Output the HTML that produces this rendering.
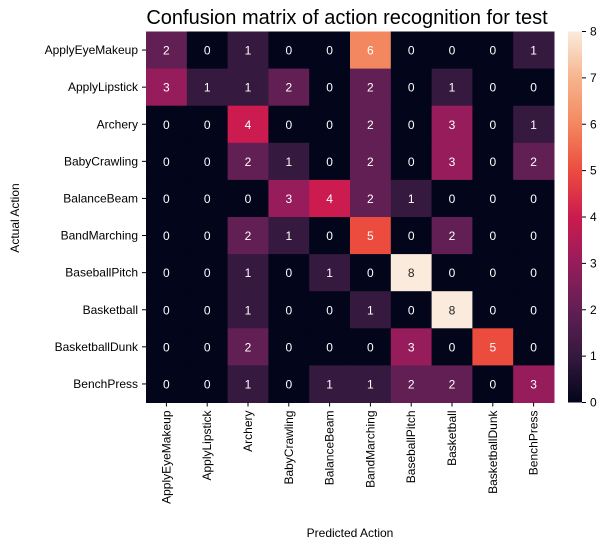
<!DOCTYPE html>
<html><head><meta charset="utf-8"><style>
body{margin:0;background:#fff;font-family:"Liberation Sans",Arial,sans-serif}
svg{display:block}
text{font-family:"Liberation Sans",Arial,sans-serif}
</style></head><body>
<svg id="chart" width="614" height="551">
<text x="347" y="24" text-anchor="middle" font-size="20">Confusion matrix of action recognition for test</text>
<text x="350" y="537" text-anchor="middle" font-size="12">Predicted Action</text>
<text transform="translate(19,218) rotate(-90)" text-anchor="middle" font-size="12">Actual Action</text>
<defs><linearGradient id="cbg" x1="0" y1="1" x2="0" y2="0"></linearGradient></defs>
</svg>
<script>
const categories=["ApplyEyeMakeup","ApplyLipstick","Archery","BabyCrawling","BalanceBeam","BandMarching","BaseballPitch","Basketball","BasketballDunk","BenchPress"];
const matrix=[
[2,0,1,0,0,6,0,0,0,1],
[3,1,1,2,0,2,0,1,0,0],
[0,0,4,0,0,2,0,3,0,1],
[0,0,2,1,0,2,0,3,0,2],
[0,0,0,3,4,2,1,0,0,0],
[0,0,2,1,0,5,0,2,0,0],
[0,0,1,0,1,0,8,0,0,0],
[0,0,1,0,0,1,0,8,0,0],
[0,0,2,0,0,0,3,0,5,0],
[0,0,1,0,1,1,2,2,0,3]];
const cbTicks=[0,1,2,3,4,5,6,7,8];
const vmax=8;
const stops=["#03051a","#35193e","#611f53","#971c5b","#cb1b4f","#ec4c3e","#f3875f","#f6b48e","#faebdd"];
function hex(c){return [1,3,5].map(i=>parseInt(c.substr(i,2),16));}
function color(v){const t=Math.max(0,Math.min(1,v/vmax))*(stops.length-1);const i=Math.min(stops.length-2,Math.floor(t));const f=t-i;const a=hex(stops[i]),b=hex(stops[i+1]);return "rgb("+a.map((x,k)=>Math.round(x+(b[k]-x)*f)).join(",")+")";}
const X0=146,X1=554,Y0=31.5,Y1=402.5;
const cw=(X1-X0)/categories.length,ch=(Y1-Y0)/categories.length;
const xs=j=>X0+j*cw, ys=i=>Y0+i*ch;
const svg=document.getElementById('chart');const NS="http://www.w3.org/2000/svg";
function mk(t,a){const e=document.createElementNS(NS,t);for(const k in a)e.setAttribute(k,a[k]);svg.appendChild(e);return e;}
matrix.forEach((row,i)=>row.forEach((v,j)=>{
 const r=mk('rect',{x:xs(j),y:ys(i),width:cw+0.5,height:ch+0.5,fill:color(v)});
 
 
 const t=mk('text',{x:xs(j)+cw/2,y:ys(i)+ch/2+4.5,'text-anchor':'middle','font-size':12,fill:v/vmax>0.8?'#262626':'#fff'});
 t.textContent=v;
 
 
}));
categories.forEach((c,i)=>{
 const t=mk('text',{x:X0-8,y:ys(i)+ch/2+4,'text-anchor':'end','font-size':12,fill:'#000'});
 t.textContent=c;
 
 
 mk('line',{x1:X0-4,x2:X0,y1:ys(i)+ch/2,y2:ys(i)+ch/2,stroke:'#000'});
 const cx=xs(i)+cw/2;
 mk('line',{x1:cx,x2:cx,y1:Y1,y2:Y1+4,stroke:'#000'});
 const u=mk('text',{transform:'translate('+(cx+4)+','+(Y1+8)+') rotate(-90)','text-anchor':'end','font-size':12,fill:'#000'});
 u.textContent=c;
 
 
});
const g=document.getElementById('cbg');
for(let k=0;k<=16;k++){const s=document.createElementNS(NS,'stop');s.setAttribute('offset',k/16);s.setAttribute('stop-color',color(k/16*vmax));g.appendChild(s);}
const CB0=568,CB1=582;
const cb=mk('rect',{x:CB0,y:Y0,width:CB1-CB0,height:Y1-Y0,fill:'url(#cbg)'});


const cy=v=>Y1-v/vmax*(Y1-Y0);
cbTicks.forEach(v=>{
 mk('line',{x1:CB1,x2:CB1+4,y1:cy(v),y2:cy(v),stroke:'#000'});
 const t=mk('text',{x:CB1+8,y:cy(v)+4,'font-size':12,fill:'#000'});
 t.textContent=v;
 
 
});
</script>
</body></html>
